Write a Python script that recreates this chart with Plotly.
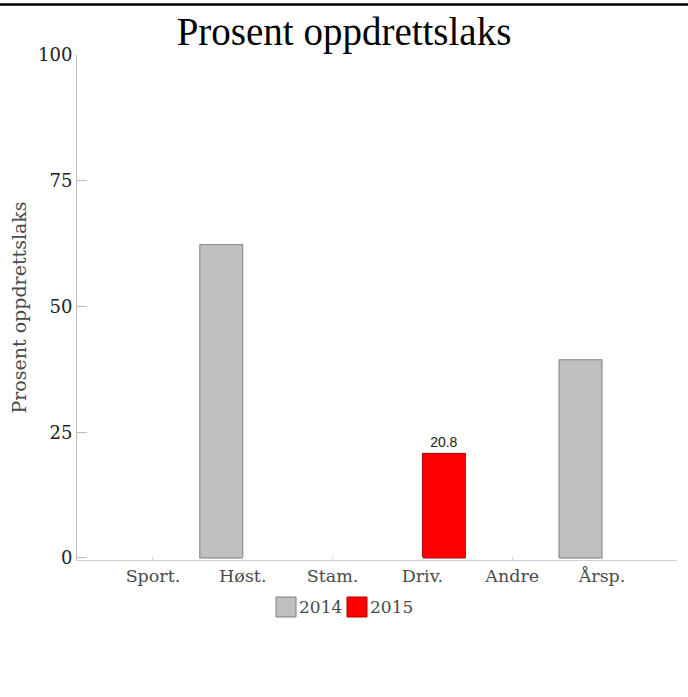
import plotly.graph_objects as go

categories = ["Sport.", "Høst.", "Stam.", "Driv.", "Andre", "Årsp."]
values_2014 = [None, 62.3, None, None, None, 39.4]
values_2015 = [None, None, None, 20.8, None, None]
labels_2015 = ["", "", "", "20.8", "", ""]
y_ticks = [0, 25, 50, 75, 100]

W, H = 688, 697
L, R, T, B = 77, 11, 55, 137
PW, PH = W - L - R, H - T - B

def px(x):
    return (x - L) / PW

def py(y):
    return (H - B - y) / PH

serif = "DejaVu Serif"
tick_col = "#4a4a4a"

fig = go.Figure()
fig.add_trace(go.Bar(
    x=categories, y=values_2014, name="2014",
    marker=dict(color="#c0c0c0", line=dict(color="#7f7f7f", width=1)),
    showlegend=False,
))
fig.add_trace(go.Bar(
    x=categories, y=values_2015, name="2015",
    text=labels_2015, textposition="outside",
    textfont=dict(family="Liberation Sans", size=14, color="#222"),
    marker=dict(color="#ff0000", line=dict(color="#b00000", width=1)),
    showlegend=False, cliponaxis=False,
))

fig.update_layout(
    width=W, height=H,
    margin=dict(l=L, r=R, t=T, b=B),
    paper_bgcolor="white", plot_bgcolor="white",
    barmode="group", bargap=0.043, bargroupgap=0,
    title=dict(text="Prosent oppdrettslaks", x=0.5, xanchor="center",
               y=1 - 31 / H, yanchor="middle",
               font=dict(family="Liberation Serif", size=39, color="black")),
    showlegend=False,
    xaxis=dict(
        type="category", range=[-0.846, 5.835],
        showline=True, linecolor="#d0d0d0", linewidth=1,
        ticks="inside", ticklen=3, tickcolor="#d8d8d8",
        showgrid=False, zeroline=False,
        tickfont=dict(family=serif, size=17.5, color=tick_col),
    ),
    yaxis=dict(
        range=[-0.4, 100], tickvals=y_ticks,
        showline=True, linecolor="#bdbdbd", linewidth=1,
        ticks="inside", ticklen=10, tickcolor="#bdbdbd",
        showgrid=False, zeroline=False,
        tickfont=dict(family=serif, size=18, color="#222"),
        title=dict(text="Prosent oppdrettslaks",
                   font=dict(family=serif, size=19, color=tick_col), standoff=6),
    ),
)

# top rule of the clipped page
fig.add_shape(type="line", xref="paper", yref="paper",
              x0=px(0), x1=px(W), y0=py(4.5), y1=py(4.5),
              line=dict(color="black", width=2.5))

# manual legend
legend_items = [("2014", "#c0c0c0", "#7f7f7f", 276), ("2015", "#ff0000", "#b00000", 347)]
for name, fill, edge, x0 in legend_items:
    fig.add_shape(type="rect", xref="paper", yref="paper",
                  x0=px(x0), x1=px(x0 + 20), y0=py(597), y1=py(617),
                  fillcolor=fill, line=dict(color=edge, width=1))
    fig.add_annotation(text=name, xref="paper", yref="paper",
                       x=px(x0 + 21), y=py(607), xanchor="left", yanchor="middle",
                       showarrow=False,
                       font=dict(family=serif, size=17, color=tick_col))

fig.write_html("out.html", config={"displayModeBar": False},
               post_script="document.body.style.margin='0';")
